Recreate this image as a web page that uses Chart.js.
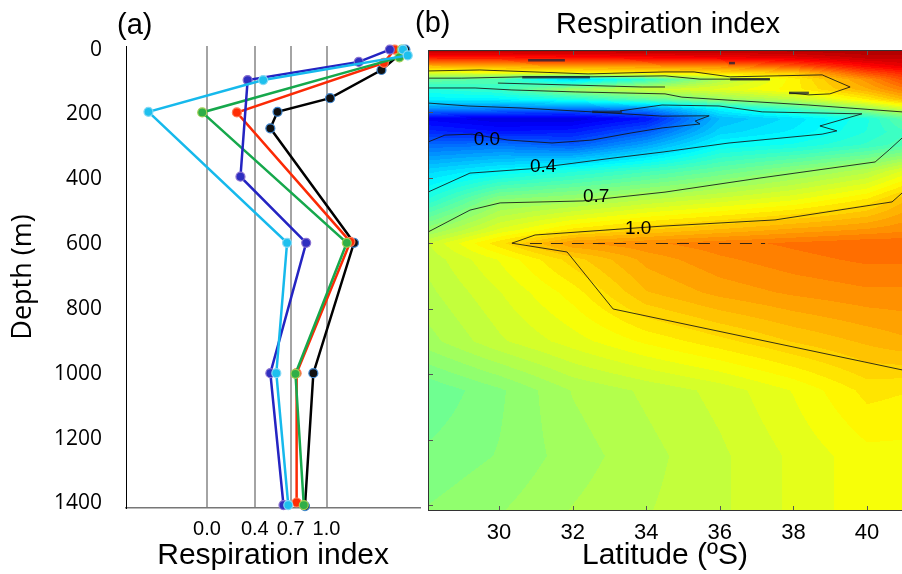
<!DOCTYPE html>
<html lang="en">
<head>
<meta charset="UTF-8">
<title>Respiration index</title>
<script src="https://cdn.jsdelivr.net/npm/chart.js"></script>
<style>
  body { margin: 0; background: #fff; }
  #wrap { position: relative; width: 902px; height: 574px; overflow: hidden; }
  #chartA { position: absolute; left: 0; top: 0; }
  #chartB { position: absolute; left: 410px; top: 0; }
</style>
</head>
<body>
<div id="wrap">
<canvas id="chartA" width="426" height="574"></canvas>
<canvas id="chartB" width="492" height="574"></canvas>
</div>
<script>
// ---- (a) profiles: depth (m) and respiration index
const depthBlack = [0, 63, 150, 192, 243, 596, 998, 1408];
const riBlack    = [1.66, 1.46, 1.03, 0.59, 0.53, 1.23, 0.89, 0.82];
const depthRed   = [0, 41, 194, 593, 998, 1397];
const riRed      = [1.57, 1.48, 0.25, 1.20, 0.75, 0.75];
const depthGreen = [0, 24, 194, 596, 1000, 1405];
const riGreen    = [1.63, 1.61, -0.04, 1.17, 0.74, 0.81];
const depthBlue  = [0, 38, 94, 392, 596, 998, 1405];
const riBlue     = [1.53, 1.27, 0.34, 0.28, 0.83, 0.53, 0.64];
const depthCyan  = [0, 18, 94, 192, 596, 998, 1405];
const riCyan     = [1.64, 1.68, 0.47, -0.49, 0.67, 0.58, 0.68];

const riTicks    = [0.0, 0.4, 0.7, 1.0];
const depthTicks = [0, 200, 400, 600, 800, 1000, 1200, 1400];
const latTicks   = [30, 32, 34, 36, 38, 40];

// ---- (b) section: respiration index on a latitude x depth grid
const latNodes   = [28, 30, 32, 34, 36, 38, 40, 41];
const depthNodes = [10, 35, 60, 80, 100, 130, 160, 190, 220, 260, 300, 380, 470, 560, 600, 650, 750, 900, 1050, 1250, 1420];
const riGrid = [
  [1.60, 1.60, 1.60, 1.60, 1.60, 1.60, 1.62, 1.62],
  [1.38, 1.38, 1.40, 1.42, 1.45, 1.48, 1.55, 1.55],
  [1.05, 1.08, 1.10, 1.12, 1.15, 1.25, 1.42, 1.48],
  [0.85, 0.88, 0.92, 0.95, 0.98, 1.02, 1.28, 1.36],
  [0.60, 0.55, 0.30, 0.50, 0.75, 0.93, 1.14, 1.28],
  [0.45, 0.50, 0.72, 0.80, 0.85, 0.93, 1.08, 1.18],
  [0.37, 0.38, 0.45, 0.58, 0.70, 0.78, 0.95, 1.06],
  [0.15, 0.12, 0.10, 0.15, 0.38, 0.52, 0.70, 0.82],
  [-0.15, -0.20, -0.20, -0.10, 0.25, 0.33, 0.45, 0.58],
  [-0.05, -0.10, -0.08, 0.05, 0.30, 0.36, 0.46, 0.52],
  [0.08, 0.10, 0.05, 0.20, 0.39, 0.43, 0.50, 0.55],
  [0.30, 0.38, 0.45, 0.52, 0.60, 0.68, 0.76, 0.85],
  [0.46, 0.68, 0.72, 0.78, 0.83, 0.88, 0.96, 1.05],
  [0.69, 0.85, 0.96, 1.02, 1.06, 1.10, 1.13, 1.15],
  [0.80, 0.97, 1.12, 1.15, 1.18, 1.20, 1.22, 1.22],
  [0.78, 0.88, 1.00, 1.10, 1.15, 1.18, 1.20, 1.20],
  [0.76, 0.84, 0.93, 1.05, 1.10, 1.13, 1.15, 1.15],
  [0.72, 0.80, 0.86, 0.92, 0.97, 1.02, 1.06, 1.08],
  [0.60, 0.66, 0.74, 0.78, 0.82, 0.88, 0.96, 0.95],
  [0.64, 0.67, 0.72, 0.76, 0.80, 0.85, 0.90, 0.90],
  [0.67, 0.70, 0.74, 0.77, 0.80, 0.85, 0.90, 0.90]
];
const vMin = -0.4, vMax = 1.7;

// contour lines (latitude, depth)
const cTopLat    = [28.07, 29.48, 32.42, 34.51, 35.30, 36.28, 38.78, 39.54, 38.99, 38.42, 37.88];
const cTopDepth  = [74, 71, 83, 77, 77, 92, 86, 123, 144, 147, 141];
const cB1Lat     = [28.07, 28.99, 30.63, 32.47, 34.51, 35.46, 37.36];
const cB1Depth   = [96, 96, 92, 92, 89, 99, 99];
const cB2Lat     = [29.97, 31.98, 33.89, 34.51];
const cB2Depth   = [111, 117, 123, 123];
const cUpLat     = [28.07, 29.35, 30.35, 32.07, 34.51, 34.97, 36.22, 38.40, 40.95];
const cUpDepth   = [126, 126, 132, 138, 144, 154, 163, 178, 199];
const c00Lat     = [28.07, 29.16, 30.57, 32.53, 34.43, 35.71, 35.33, 35.46, 34.43, 33.61, 32.53, 31.44, 30.24, 29.27, 28.53, 28.07];
const c00Depth   = [172, 181, 187, 199, 212, 211, 227, 236, 248, 263, 285, 294, 285, 267, 270, 291];
const c04Lat     = [33.29, 34.43, 35.98, 37.15, 39.86, 38.72, 39.18, 38.78, 36.25, 34.43, 33.10, 30.84, 29.21, 28.07];
const c04Depth   = [196, 178, 181, 199, 205, 242, 257, 267, 294, 322, 340, 373, 386, 444];
const c07Lat     = [28.07, 29.21, 30.03, 32.28, 34.51, 37.09, 40.22, 40.60, 40.95];
const c07Depth   = [566, 499, 477, 471, 444, 401, 352, 315, 279];
const c10Lat     = [40.95, 40.68, 37.50, 34.43, 30.98, 30.35, 31.85, 33.10, 40.95];
const c10Depth   = [447, 474, 529, 548, 575, 600, 627, 801, 987];
const c10DashLat = [30.84, 37.23];
const c10DashDepth = [601, 601];
const streakLat   = [[30.63, 32.47], [36.28, 37.36], [32.53, 33.34], [37.88, 38.42], [30.79, 31.79], [36.25, 36.41]];
const streakDepth = [[93, 93], [99, 99], [199, 199], [141, 141], [41, 41], [50, 50]];

const contourLabels = ['0.0', '0.4', '0.7', '1.0'];
const labelLat      = [29.67, 31.20, 32.64, 33.78];
const labelDepth    = [285, 367, 459, 557];

function pts(xs, ys) { return xs.map((v, i) => ({ x: v, y: ys[i] })); }

// jet colour map
function jet(t) {
  t = Math.min(1, Math.max(0, t));
  const c = v => Math.round(255 * Math.min(1, Math.max(0, v)));
  return [c(Math.min(4 * t - 1.5, -4 * t + 4.5)), c(Math.min(4 * t - 0.5, -4 * t + 3.5)), c(Math.min(4 * t + 0.5, -4 * t + 2.5))];
}

function findCell(nodes, v) {
  let k = 0;
  while (k < nodes.length - 2 && v > nodes[k + 1]) k++;
  const f = (v - nodes[k]) / (nodes[k + 1] - nodes[k]);
  return [k, Math.min(1, Math.max(0, f))];
}

function textPlugin(items) {
  return {
    id: 'panelText',
    afterDraw(chart) {
      const ctx = chart.ctx;
      ctx.save();
      ctx.fillStyle = '#000';
      ctx.textBaseline = 'alphabetic';
      items.forEach(it => {
        ctx.font = it.font;
        ctx.textAlign = it.align;
        ctx.fillText(it.text, it.x, it.y);
      });
      ctx.restore();
    }
  };
}

// ---------- panel (a)
function profile(label, xs, ys, line, fill, edge) {
  return {
    label: label, data: pts(xs, ys), showLine: true,
    borderColor: line, borderWidth: 2.5,
    pointRadius: 4.5, pointBackgroundColor: fill, pointBorderColor: edge, pointBorderWidth: 1.2,
    clip: false
  };
}

new Chart(document.getElementById('chartA'), {
  type: 'scatter',
  data: {
    datasets: [
      profile('cyan', riCyan, depthCyan, '#16b9ec', '#1ec0ee', '#86d9f4'),
      profile('blue', riBlue, depthBlue, '#2424c2', '#2f2fc0', '#8a72d2'),
      profile('green', riGreen, depthGreen, '#16a84c', '#2fae48', '#a2cf55'),
      profile('red', riRed, depthRed, '#fb2a05', '#ff2d05', '#ff7a55'),
      profile('black', riBlack, depthBlack, '#000000', '#111111', '#3f86cf')
    ]
  },
  options: {
    responsive: false,
    animation: false,
    layout: { padding: { top: 46, right: 2, left: 0, bottom: 0 } },
    plugins: { legend: { display: false }, tooltip: { enabled: false } },
    scales: {
      x: {
        type: 'linear', min: -0.678, max: 1.785,
        afterBuildTicks: s => { s.ticks = riTicks.map(v => ({ value: v })); },
        afterFit: s => { s.height = 66; },
        grid: { color: '#a4a4a4', lineWidth: 2, drawTicks: false },
        border: { color: '#777', width: 1.5 },
        ticks: { font: { family: 'Liberation Sans', size: 20 }, color: '#000', padding: 9, maxRotation: 0, autoSkip: false,
                 callback: v => Number(v).toFixed(1) },
        title: { display: true, text: 'Respiration index', font: { family: 'Liberation Sans', size: 30 }, color: '#000', padding: 0 }
      },
      y: {
        type: 'linear', reverse: true, min: -11, max: 1414,
        afterBuildTicks: s => { s.ticks = depthTicks.map(v => ({ value: v })); },
        afterFit: s => { s.width = 126; },
        grid: { drawOnChartArea: false, drawTicks: false },
        border: { color: '#000', width: 1 },
        ticks: { font: { family: 'Open Sans', size: 21 }, color: '#000', padding: 24, callback: v => String(v) },
        title: { display: true, text: 'Depth (m)', font: { family: 'Open Sans', size: 27 }, color: '#000', padding: { top: 7, bottom: 0 } }
      }
    }
  },
  plugins: [textPlugin([{ text: '(a)', x: 117, y: 34, font: '29px "Liberation Sans"', align: 'left' }])]
});

// ---------- panel (b)
const heatmap = {
  id: 'heatmap',
  beforeDatasetsDraw(chart) {
    const { ctx, chartArea: a, scales: { x, y } } = chart;
    const w = Math.round(a.right - a.left), h = Math.round(a.bottom - a.top);
    const off = document.createElement('canvas');
    off.width = w; off.height = h;
    const octx = off.getContext('2d');
    const img = octx.createImageData(w, h);
    const cols = [];
    for (let i = 0; i < w; i++) cols.push(findCell(latNodes, x.getValueForPixel(a.left + i + 0.5)));
    for (let j = 0; j < h; j++) {
      const [r, fy] = findCell(depthNodes, y.getValueForPixel(a.top + j + 0.5));
      const row0 = riGrid[r], row1 = riGrid[r + 1];
      for (let i = 0; i < w; i++) {
        const [c, fx] = cols[i];
        const top = row0[c] + (row0[c + 1] - row0[c]) * fx;
        const bot = row1[c] + (row1[c + 1] - row1[c]) * fx;
        const v = top + (bot - top) * fy;
        const t = Math.round((v - vMin) / (vMax - vMin) * 60) / 60;
        const col = jet(t);
        const p = (j * w + i) * 4;
        img.data[p] = col[0]; img.data[p + 1] = col[1]; img.data[p + 2] = col[2]; img.data[p + 3] = 255;
      }
    }
    octx.putImageData(img, 0, 0);
    ctx.drawImage(off, a.left, a.top);
  },
  afterDatasetsDraw(chart) {
    const { ctx, scales: { x, y } } = chart;
    ctx.save();
    ctx.fillStyle = '#000';
    ctx.font = '19px "Liberation Sans"';
    ctx.textAlign = 'center';
    ctx.textBaseline = 'middle';
    contourLabels.forEach((t, i) => ctx.fillText(t, x.getPixelForValue(labelLat[i]), y.getPixelForValue(labelDepth[i])));
    ctx.restore();
  },
  afterDraw(chart) {
    const { ctx, chartArea: a, scales: { x, y } } = chart;
    ctx.save();
    ctx.strokeStyle = '#555';
    ctx.lineWidth = 1;
    ctx.beginPath();
    latTicks.forEach(v => {
      const px = Math.round(x.getPixelForValue(v)) + 0.5;
      ctx.moveTo(px, a.top); ctx.lineTo(px, a.top + 5);
      ctx.moveTo(px, a.bottom); ctx.lineTo(px, a.bottom - 5);
    });
    depthTicks.forEach(v => {
      const py = Math.round(y.getPixelForValue(v)) + 0.5;
      if (py > a.top && py < a.bottom) { ctx.moveTo(a.left, py); ctx.lineTo(a.left + 5, py); }
    });
    ctx.stroke();
    ctx.strokeStyle = '#333';
    ctx.strokeRect(a.left + 0.5, a.top + 0.5, a.right - a.left, a.bottom - a.top - 1);
    ctx.restore();
  }
};

function contour(xs, ys, extra) {
  return Object.assign({ data: pts(xs, ys), showLine: true, pointRadius: 0,
    borderColor: 'rgba(20,20,20,0.85)', borderWidth: 1 }, extra || {});
}

const contourSets = [
  contour(cTopLat, cTopDepth), contour(cB1Lat, cB1Depth), contour(cB2Lat, cB2Depth),
  contour(cUpLat, cUpDepth), contour(c00Lat, c00Depth), contour(c04Lat, c04Depth),
  contour(c07Lat, c07Depth), contour(c10Lat, c10Depth),
  contour(c10DashLat, c10DashDepth, { borderDash: [12, 9] })
];
streakLat.forEach((xs, i) => contourSets.push(contour(xs, streakDepth[i], { borderWidth: 2.5, borderColor: 'rgba(25,35,60,0.75)' })));

new Chart(document.getElementById('chartB'), {
  type: 'scatter',
  data: { datasets: contourSets },
  options: {
    responsive: false,
    animation: false,
    layout: { padding: { top: 50, right: 0, left: 18, bottom: 0 } },
    plugins: { legend: { display: false }, tooltip: { enabled: false } },
    scales: {
      x: {
        type: 'linear', min: 28.07, max: 40.95,
        afterBuildTicks: s => { s.ticks = latTicks.map(v => ({ value: v })); },
        afterFit: s => { s.height = 63; },
        grid: { display: false },
        border: { display: false },
        ticks: { font: { family: 'Liberation Sans', size: 22 }, color: '#000', padding: 1, maxRotation: 0, autoSkip: false },
        title: { display: true, text: 'Latitude (ºS)', font: { family: 'Liberation Sans', size: 30 }, color: '#000', padding: 0 }
      },
      y: { type: 'linear', display: false, reverse: true, min: 10, max: 1418 }
    }
  },
  plugins: [heatmap, textPlugin([
    { text: '(b)', x: 5, y: 32, font: '29px "Liberation Sans"', align: 'left' },
    { text: 'Respiration index', x: 258, y: 33, font: '29px "Liberation Sans"', align: 'center' }
  ])]
});
</script>
</body>
</html>
